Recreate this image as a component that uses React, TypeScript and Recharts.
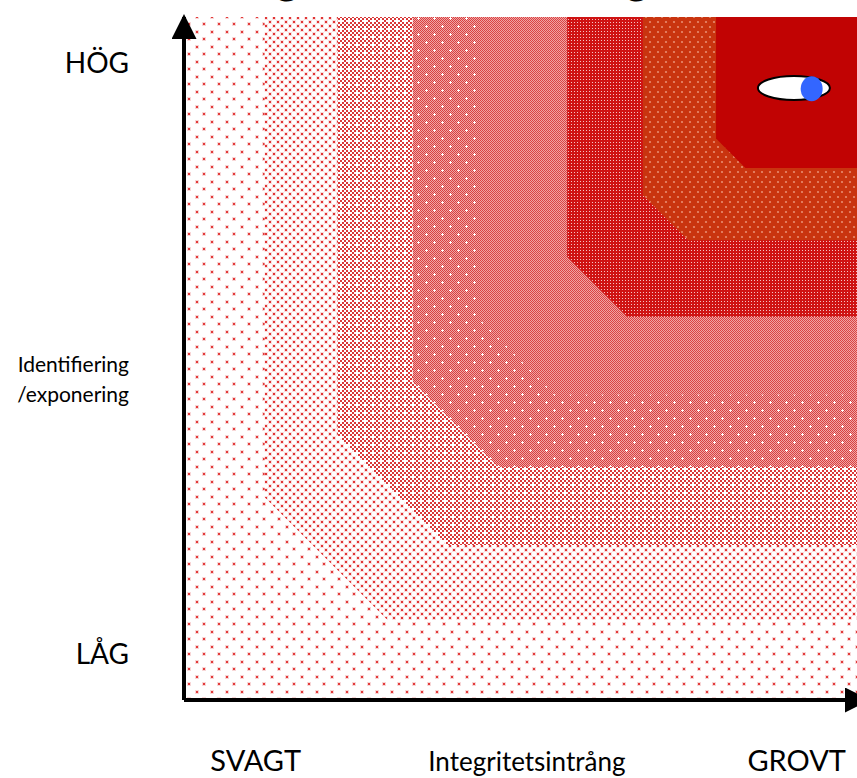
import { ComposedChart, Area, Scatter, XAxis, YAxis } from 'recharts';

// zonerna, inifrån ut: startvärde på x- och y-axeln samt avfasning i hörnet
const zoneX = [0, 11.8, 22.5, 33.5, 43.3, 56.1, 67.2, 77.9];
const zoneY = [0, 11.7, 22.7, 34.1, 44.7, 56.1, 67.3, 77.9];
const zoneCut = [0, 18, 16, 12.5, 11, 8.8, 6.6, 4.3];

// markering av bedömt läge
const markerPoint = [{ x: 89.3, y: 89.6 }];
const bluePoint = [{ x: 91.9, y: 89.5 }];

// axelrubriker
const xTicks = [10.5, 50.2, 89.7];
const xLabels = ['SVAGT', 'Integritetsintrång', 'GROVT'];
const yTicks = [6.7, 47.1, 93.3];
const yLabels = ['LÅG', 'Identifiering\n/exponering', 'HÖG'];

const title = 'Bedömning av risker för integriteten';

const zoneFills = ['url(#p0)', 'url(#p1)', 'url(#p2)', 'url(#p3)', 'url(#p4)', 'url(#p5)', 'url(#p6)', '#c10303'];

const zoneData = zoneX.map((x0, i) => [
  { x: x0, y: 100 },
  { x: x0, y: zoneY[i] + zoneCut[i] },
  { x: x0 + zoneCut[i], y: zoneY[i] },
  { x: 100, y: zoneY[i] },
]);

const FONT = 'Lato, "Open Sans", sans-serif';

// 1px schackruta som path
function checker(w: number, h: number) {
  let d = '';
  for (let y = 0; y < h; y++) {
    for (let x = (y % 2); x < w; x += 2) d += `M${x} ${y}h1v1h-1z`;
  }
  return d;
}

const YTick = (props: any) => {
  const { x, y, index } = props;
  const label = yLabels[index];
  if (label.includes('\n')) {
    const [a, b] = label.split('\n');
    return (
      <text x={x} y={y} textAnchor="end" fontFamily={FONT} fontSize={21} fill="#000">
        <tspan x={x} dy={-6}>{a}</tspan>
        <tspan x={x} dy={30}>{b}</tspan>
      </text>
    );
  }
  return (
    <text x={x} y={y + 10} textAnchor="end" fontFamily={FONT} fontSize={28} fill="#000">
      {label}
    </text>
  );
};

const XTick = (props: any) => {
  const { x, y, index } = props;
  return (
    <text x={x} y={y} textAnchor="middle" fontFamily={FONT} fontSize={index === 1 ? 26 : 29} fill="#000">
      {xLabels[index]}
    </text>
  );
};

const Patterns = () => (
  <svg width={0} height={0} style={{ position: 'absolute' }}>
    <defs>
      <pattern id="p0" width={15} height={15} patternUnits="userSpaceOnUse">
        <rect width={15} height={15} fill="#fff" />
        <rect x={0} y={0} width={4} height={4} fill="#f8d6d6" />
        <rect x={1} y={1} width={2} height={2} fill="#e23b3b" />
        <rect x={7} y={7} width={4} height={4} fill="#f8d6d6" />
        <rect x={8} y={8} width={2} height={2} fill="#e23b3b" />
      </pattern>
      <pattern id="p1" width={8} height={8} patternUnits="userSpaceOnUse">
        <rect width={8} height={8} fill="#fff" />
        <rect x={0} y={0} width={4} height={4} fill="#fadede" />
        <rect x={1} y={1} width={2} height={2} fill="#e03535" />
        <rect x={4} y={4} width={4} height={4} fill="#fadede" />
        <rect x={5} y={5} width={2} height={2} fill="#e03535" />
      </pattern>
      <pattern id="p2" width={8} height={8} patternUnits="userSpaceOnUse">
        <rect width={8} height={8} fill="#fff" />
        <rect x={0} y={0} width={2} height={2} fill="#d93838" />
        <rect x={4} y={0} width={2} height={2} fill="#d93838" />
        <rect x={2} y={2} width={2} height={2} fill="#d93838" />
        <rect x={6} y={2} width={2} height={2} fill="#d93838" />
        <rect x={0} y={4} width={2} height={2} fill="#d93838" />
        <rect x={2} y={6} width={2} height={2} fill="#d93838" />
        <rect x={6} y={6} width={2} height={2} fill="#d93838" />
      </pattern>
      <pattern id="p3" width={16} height={16} patternUnits="userSpaceOnUse">
        <rect width={16} height={16} fill="#f0a6a6" />
        <path d={checker(16, 16)} fill="#d94040" />
        <rect x={1} y={2} width={3} height={1} fill="#fff" />
        <rect x={2} y={1} width={1} height={3} fill="#fff" />
        <rect x={9} y={10} width={3} height={1} fill="#fff" />
        <rect x={10} y={9} width={1} height={3} fill="#fff" />
      </pattern>
      <pattern id="p4" width={2} height={2} patternUnits="userSpaceOnUse">
        <rect width={2} height={2} fill="#f0a4a4" />
        <rect width={1} height={1} fill="#da4444" />
        <rect x={1} y={1} width={1} height={1} fill="#da4444" />
      </pattern>
      <pattern id="p5" width={3} height={3} patternUnits="userSpaceOnUse">
        <rect width={3} height={3} fill="#cf1313" />
        <rect x={1} y={1} width={1} height={1} fill="#f4c4c4" />
      </pattern>
      <pattern id="p6" width={8} height={10} patternUnits="userSpaceOnUse">
        <rect width={8} height={10} fill="#c9340f" />
        <circle cx={2} cy={2} r={1.1} fill="#e98c70" />
        <circle cx={6} cy={7} r={1.1} fill="#e98c70" />
      </pattern>
      <marker id="arrow" viewBox="0 0 25 25" refX={22} refY={12.5} markerWidth={25} markerHeight={25}
        markerUnits="userSpaceOnUse" orient="auto-start-reverse">
        <path d="M0,0 L25,12.5 L0,25 z" fill="#000" />
      </marker>
    </defs>
  </svg>
);

export default function App() {
  return (
    <div style={{ position: 'absolute', left: 0, top: 0, width: 857, height: 778, overflow: 'hidden', background: '#fff' }}>
      <Patterns />
      <ComposedChart width={867} height={778} margin={{ top: 17, right: 0, bottom: 0, left: 0 }}>
        {zoneData.map((d, i) => (
          <Area
            key={i}
            data={d}
            dataKey="y"
            type="linear"
            baseValue={100}
            stroke="none"
            fill={zoneFills[i]}
            fillOpacity={1}
            dot={false}
            activeDot={false}
            isAnimationActive={false}
          />
        ))}
        <Scatter
          data={markerPoint}
          isAnimationActive={false}
          shape={(p: any) => <ellipse cx={p.cx} cy={p.cy} rx={36} ry={12} fill="#fff" stroke="#000" strokeWidth={2} />}
        />
        <Scatter
          data={bluePoint}
          isAnimationActive={false}
          shape={(p: any) => <ellipse cx={p.cx} cy={p.cy} rx={11} ry={12.5} fill="#3366ff" />}
        />
        <XAxis
          dataKey="x"
          type="number"
          domain={[0, 100]}
          allowDataOverflow
          ticks={xTicks}
          interval={0}
          height={78}
          tickLine={false}
          tickSize={0}
          tickMargin={71}
          tick={<XTick />}
          axisLine={{ stroke: '#000', strokeWidth: 4, markerEnd: 'url(#arrow)' }}
        />
        <YAxis
          dataKey="y"
          type="number"
          domain={[0, 100]}
          allowDataOverflow
          ticks={yTicks}
          interval={0}
          width={184}
          tickLine={false}
          tickSize={0}
          tickMargin={55}
          tick={<YTick />}
          axisLine={{ stroke: '#000', strokeWidth: 4, markerStart: 'url(#arrow)' }}
        />
        <text x={428} y={-6} textAnchor="middle" fontFamily={FONT} fontSize={44} fontWeight="bold" fill="#000">
          {title}
        </text>
      </ComposedChart>
    </div>
  );
}
